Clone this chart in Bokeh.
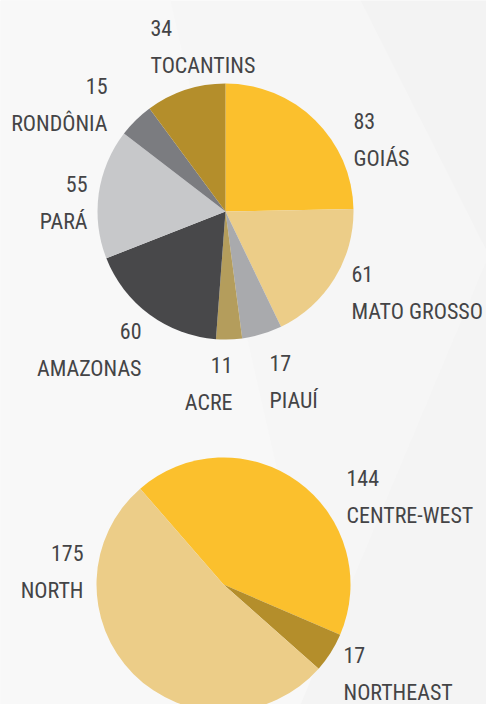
import math
from bokeh.plotting import figure
from bokeh.models import Range1d
from bokeh.core.properties import value
from bokeh.embed import file_html
from bokeh.resources import INLINE

# ---- data ----
states = ["GOIÁS", "MATO GROSSO", "PIAUÍ", "ACRE", "AMAZONAS", "PARÁ", "RONDÔNIA", "TOCANTINS"]
state_values = [83, 61, 17, 11, 60, 55, 15, 34]
state_colors = ["#FBC02D", "#ECCD88", "#A9AAAD", "#B49D5C", "#48484A", "#C7C8CA", "#7B7C80", "#B48E2B"]

regions = ["CENTRE-WEST", "NORTHEAST", "NORTH"]
region_values = [144, 17, 175]
region_colors = ["#FBC02D", "#B48E2B", "#ECCD88"]

# ---- layout (pixels, picture coordinates) ----
W, H = 486, 704
BASE_FIX = 9


def fy(img_y):
    return H - img_y


def fx(img_x):
    return img_x


# label anchors: (x, number baseline y, align)
state_label_pos = [
    (353, 129, "left"),
    (351, 282, "left"),
    (269, 371, "left"),
    (232, 373, "right"),
    (141, 339, "right"),
    (87, 192, "right"),
    (107, 94, "right"),
    (150, 36, "left"),
]
region_label_pos = [
    (346, 486, "left"),
    (343, 663, "left"),
    (83, 561, "right"),
]
LINE_GAP = 38

p = figure(width=W, height=H, output_backend="svg", toolbar_location=None,
           x_range=Range1d(0, W), y_range=Range1d(0, H), min_border=0)
p.axis.visible = False
p.grid.visible = False
p.outline_line_color = None
p.background_fill_color = "#F6F6F6"
p.border_fill_color = "#F6F6F6"

# subtle diagonal background bands
p.patch([fx(x) for x in [0, 170, 330, 0]], [fy(y) for y in [0, 0, 704, 704]],
        fill_color="#F8F8F8", line_color=None)
p.patch([fx(x) for x in [360, 486, 486]], [fy(y) for y in [0, 0, 250]],
        fill_color="#F3F3F3", line_color=None)
p.patch([fx(x) for x in [486, 486, 300]], [fy(y) for y in [260, 704, 704]],
        fill_color="#F4F4F4", line_color=None)


def draw_pie(cx, cy, r, vals, cols, start_deg):
    total = float(sum(vals))
    cum = 0.0
    starts, ends = [], []
    for v in vals:
        a0 = math.radians(start_deg) - cum / total * 2 * math.pi
        cum += v
        a1 = math.radians(start_deg) - cum / total * 2 * math.pi
        starts.append(a0)
        ends.append(a1)
    p.wedge(x=[cx] * len(vals), y=[cy] * len(vals), radius=r,
            start_angle=starts, end_angle=ends, direction="clock",
            fill_color=cols, line_color=None)


draw_pie(fx(225), fy(211), 128, state_values, state_colors, 90)
draw_pie(fx(223), fy(584), 127, region_values, region_colors, 90 + 41)

FONT = value("Roboto Condensed, sans-serif")
TCOL = "#444446"
FS = "22px"


def labels(names, vals, pos):
    for name, v, (x, y, al) in zip(names, vals, pos):
        p.text(x=[fx(x)], y=[fy(y - BASE_FIX)], text=[str(v)], text_font=FONT, text_font_size=FS,
               text_color=TCOL, text_align=al, text_baseline="alphabetic")
        p.text(x=[fx(x)], y=[fy(y + LINE_GAP - BASE_FIX)], text=[name], text_font=FONT, text_font_size=FS,
               text_color=TCOL, text_align=al, text_baseline="alphabetic")


labels(states, state_values, state_label_pos)
labels(regions, region_values, region_label_pos)

open("out.html", "w").write(file_html(p, INLINE))
